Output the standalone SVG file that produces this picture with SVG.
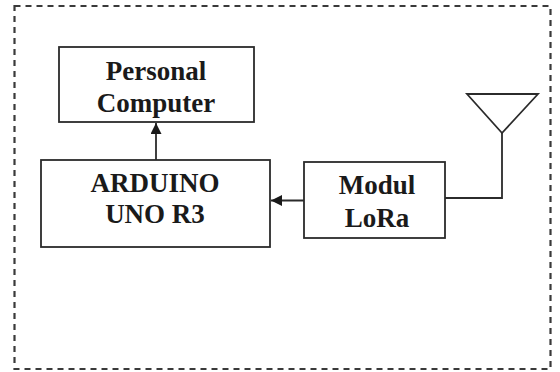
<svg xmlns="http://www.w3.org/2000/svg" width="560" height="372" viewBox="0 0 560 372">
<style>
.box{fill:#fff;stroke:#2b2b2b;stroke-width:1.8}
.lbl{font-family:"Liberation Serif","Times New Roman",serif;font-weight:bold;font-size:27px;fill:#1a1a1a;text-anchor:middle}
.wire{fill:none;stroke:#2b2b2b;stroke-width:1.8}
</style>
<defs>
<marker id="arr" markerUnits="userSpaceOnUse" markerWidth="12" markerHeight="12" refX="11" refY="5.5" orient="auto">
<path d="M0,0 L11,5.5 L0,11 Z" fill="#1a1a1a"/>
</marker>
</defs>
<rect x="14.5" y="6" width="536" height="363" fill="none" stroke="#3a3a3a" stroke-width="2.2" stroke-dasharray="6,5"/>
<g id="pc">
<rect class="box" x="59" y="47" width="195" height="75"/>
<text class="lbl" x="156" y="80">Personal</text>
<text class="lbl" x="156" y="112">Computer</text>
</g>
<g id="arduino">
<rect class="box" x="41" y="160" width="229" height="87"/>
<text class="lbl" x="155" y="192">ARDUINO</text>
<text class="lbl" x="155" y="223">UNO R3</text>
</g>
<g id="lora">
<rect class="box" x="304" y="162" width="141" height="76"/>
<text class="lbl" x="377" y="194">Modul</text>
<text class="lbl" x="377" y="227">LoRa</text>
</g>
<g id="antenna">
<path class="wire" d="M467,94 L538,94 L502,133 Z"/>
</g>
<g id="connectors">
<line class="wire" x1="156" y1="160" x2="156" y2="123" marker-end="url(#arr)"/>
<line class="wire" x1="304" y1="200.5" x2="271" y2="200.5" marker-end="url(#arr)"/>
<polyline class="wire" points="502,133 502,198 445,198"/>
</g>
</svg>
